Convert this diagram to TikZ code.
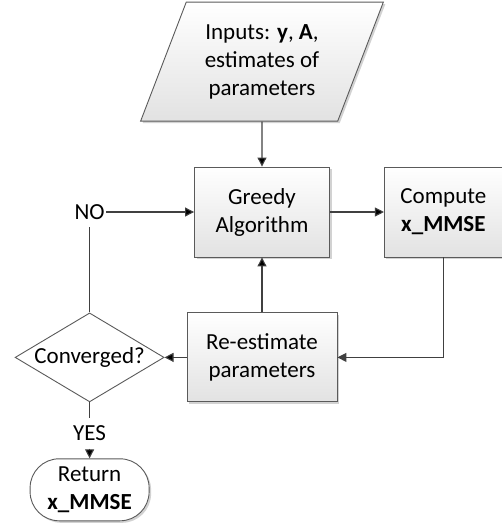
\documentclass[tikz,border=0pt]{standalone}
\usepackage{fontspec}
\setmainfont{Carlito}
\usetikzlibrary{arrows.meta,positioning,shapes.geometric,shadows}
\definecolor{edgegray}{HTML}{5A5A5A}
\definecolor{linegray}{HTML}{404040}
\definecolor{fillgray}{HTML}{E2E2E2}
\tikzset{
    every picture/.style={
        x=1pt,y=-1pt,line width=1.1pt,>={Triangle[length=9pt,width=9pt]},
        font=\fontsize{23}{28}\selectfont,
        shade/.style={drop shadow={shadow xshift=2pt,shadow yshift=-2pt,fill=black!35,opacity=.5}},
        procbox/.style={draw=edgegray,line width=.9pt,top color=white,bottom color=fillgray,
            align=center,inner sep=2pt,shade},
        iobox/.style={procbox,trapezium,trapezium left angle=65.6,trapezium right angle=114.4,
            trapezium stretches=true,minimum width=243pt,minimum height=119pt},
        decision/.style={draw=edgegray,line width=.9pt,fill=white,diamond,aspect=1.67,
            inner sep=0pt,minimum width=149pt,minimum height=89pt},
        terminal/.style={draw=edgegray,line width=.9pt,fill=white,rounded corners=29pt,
            align=center,minimum width=119pt,minimum height=62pt,inner sep=2pt,shade},
        answer/.style={inner xsep=1pt,inner ysep=7pt},
        flow/.style={draw=linegray}
    }
}
\begin{document}
\begin{tikzpicture}
    \useasboundingbox (0,0) rectangle (502,525);
    \node[procbox,minimum width=135pt,minimum height=90pt] (greedy) at (262,212) {Greedy\\Algorithm};
    \node[iobox]   (inputs)  [above=45pt of greedy] {Inputs: \textbf{y}, \textbf{A},\\estimates of\\parameters};
    \node[procbox,minimum width=118pt,minimum height=90pt] (compute) [right=54pt of greedy] {Compute\\\textbf{x\_MMSE}};
    \node[procbox,minimum width=150pt,minimum height=89pt] (reest)   [below=55pt of greedy] {Re-estimate\\parameters};
    \node[decision] (conv)    [left=22pt of reest] {Converged?};
    \node[answer]   (no)      at (conv |- greedy) {NO};
    \node[answer]   (yes)     [below=16pt of conv] {YES};
    \node[terminal] (ret)     [below=56pt of conv] {Return\\\textbf{x\_MMSE}};
    \path[flow,->] (inputs) edge (greedy)
                   (greedy) edge (compute)
                   (reest)  edge (greedy)
                   (reest)  edge (conv)
                   (no)     edge (greedy)
                   (yes)    edge (ret);
    \path[flow]    (conv) edge (no)
                   (conv) edge (yes);
    \draw[flow,->] (compute.south) |- (reest.east);
\end{tikzpicture}
\end{document}
